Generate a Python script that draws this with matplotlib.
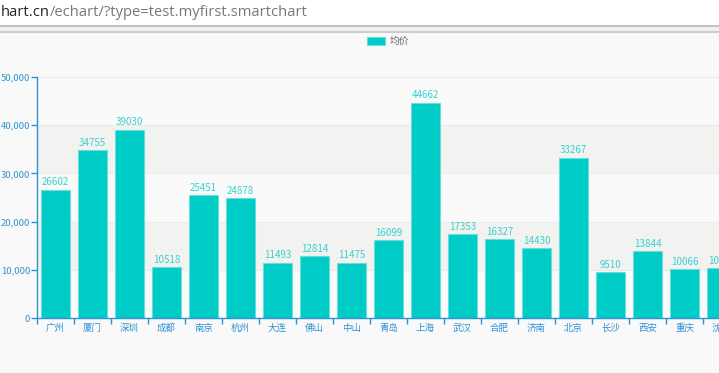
import numpy as np
import matplotlib
matplotlib.use("Agg")
import matplotlib.pyplot as plt
from matplotlib.text import Annotation

plt.rcParams['font.family'] = ['Noto Sans CJK SC', 'DejaVu Sans']

cities = ["广州", "厦门", "深圳", "成都", "南京", "杭州", "大连", "佛山", "中山", "青岛",
          "上海", "武汉", "合肥", "济南", "北京", "长沙", "西安", "重庆", "沈阳"]
prices = [26602, 34755, 39030, 10518, 25451, 24878, 11493, 12814, 11475, 16099,
          44662, 17353, 16327, 14430, 33267, 9510, 13844, 10066, 10280]
yticks = [0, 10000, 20000, 30000, 40000, 50000]

bar_color = "#00ccc7"
axis_color = "#2f93d3"
label_color = "#38d2ce"

W, H = 719, 373
fig = plt.figure(figsize=(W / 100, H / 100), dpi=100)
fig.patch.set_facecolor("#f9f9f9")

# browser chrome at the top
fig.patches.append(plt.Rectangle((0, 1 - 26 / H), 1, 26 / H, transform=fig.transFigure,
                                 facecolor="white", edgecolor="none", zorder=0))
fig.patches.append(plt.Rectangle((0, 1 - 31 / H), 1, 5 / H, transform=fig.transFigure,
                                 facecolor="#f1f1f1", edgecolor="none", zorder=0))
fig.add_artist(plt.Line2D([0, 1], [1 - 26 / H] * 2, color="#b8b8b8", lw=1.2))
fig.add_artist(plt.Line2D([0, 1], [1 - 31.5 / H] * 2, color="#c4c4c4", lw=1.2))
t1 = fig.text(1 / W, 1 - 13 / H, "hart.cn", fontsize=10.6, color="#222222",
              va="center", ha="left", family=["Open Sans", "DejaVu Sans"])
fig.add_artist(Annotation("/echart/?type=test.myfirst.smartchart",
                          xy=(1, 0.5), xycoords=t1, va="center", ha="left",
                          fontsize=10.6, color="#777777",
                          family=["Open Sans", "DejaVu Sans"]))

# plot area
step = 37
left = 37 / W
bottom = 1 - 318 / H
height = (318 - 77) / H
width = len(cities) * step / W
ax = fig.add_axes([left, bottom, width, height])
ax.set_facecolor("#fafafa")

x = np.arange(len(cities))
ax.set_xlim(-0.5, len(cities) - 0.5)
ax.set_ylim(0, 50000)

# alternating bands
for i in range(len(yticks) - 1):
    if i % 2 == 1:
        ax.axhspan(yticks[i], yticks[i + 1], color="#f2f2f0", zorder=0, lw=0)
for v in yticks[1:]:
    ax.axhline(v, color="#ebebeb", lw=0.8, zorder=0.5)

bars = ax.bar(x, prices, width=0.8, color=bar_color, edgecolor="#6adedb",
              linewidth=0.8, zorder=2, label="均价")
for xi, v in zip(x, prices):
    ax.text(xi, v + 500, str(v), ha="center", va="bottom", fontsize=7,
            color=label_color, zorder=3)

ax.set_yticks(yticks)
ax.set_yticklabels([f"{v:,}" for v in yticks])
ax.set_xticks(x)
ax.set_xticklabels(cities)
ax.set_xticks(np.arange(len(cities) + 1) - 0.5, minor=True)
ax.tick_params(axis="x", which="major", length=0, pad=4, labelsize=6.8, labelcolor=axis_color)
ax.tick_params(axis="x", which="minor", length=4, width=1, color=axis_color, direction="out")
ax.tick_params(axis="y", length=4, width=1, color=axis_color, labelsize=6.8,
               labelcolor=axis_color, pad=1)

for s in ["top", "right"]:
    ax.spines[s].set_visible(False)
for s in ["left", "bottom"]:
    ax.spines[s].set_color(axis_color)
    ax.spines[s].set_linewidth(1)

leg = fig.legend(handles=[bars], labels=["均价"], loc="center",
                 bbox_to_anchor=(388 / W, 1 - 41 / H), frameon=False, fontsize=7,
                 handlelength=1.9, handleheight=0.9, handletextpad=0.5)
for t in leg.get_texts():
    t.set_color("#666666")

fig.savefig("out.png", dpi=100, facecolor=fig.get_facecolor())
